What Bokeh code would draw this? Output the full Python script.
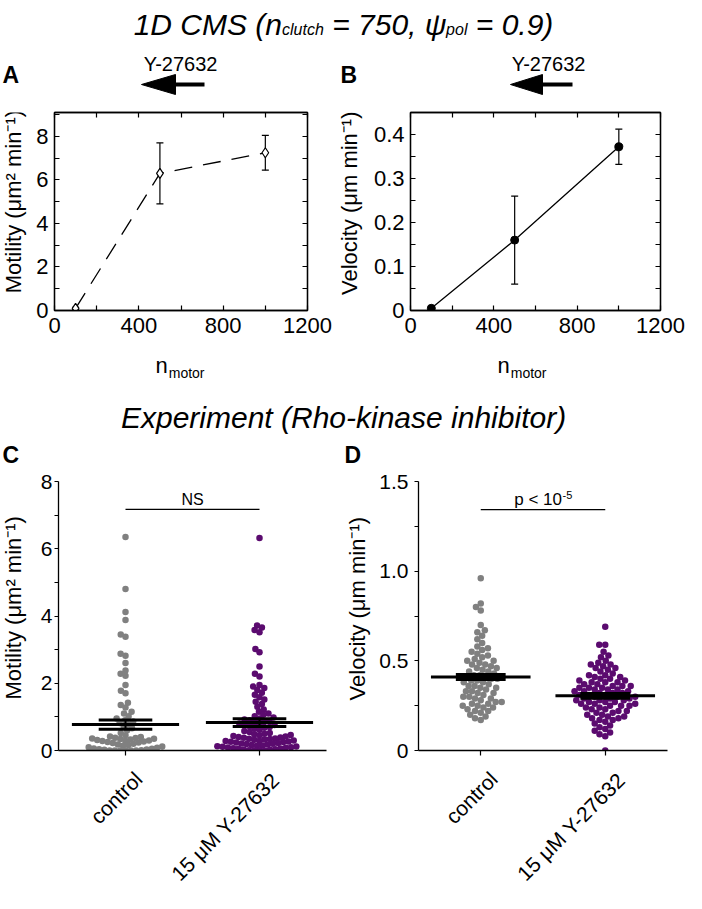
import math
from bokeh.plotting import figure
from bokeh.models import Range1d, LinearAxis, FixedTicker, Label, Whisker, TeeHead, ColumnDataSource
from bokeh.layouts import column, row
from bokeh.core.properties import value
from bokeh.embed import file_html
from bokeh.resources import INLINE

FONT = "Liberation Sans"
GRAY = "#808080"
PURPLE = "#5b0b6f"

# ---------------- data ----------------
n_motor = [100, 500, 1000]
motility_sim = [0.1, 6.3, 7.25]
motility_sim_err = [0.05, 1.4, 0.8]
velocity_sim = [0.005, 0.16, 0.372]
velocity_sim_err = [0.003, 0.1, 0.04]

sim_x_ticks = [0, 400, 800, 1200]
sim_x_minor = [200, 600, 1000]
mot_sim_ticks = [0, 2, 4, 6, 8]
mot_sim_minor = [1, 3, 5, 7, 9]
vel_sim_ticks = [0, 0.1, 0.2, 0.3, 0.4]
vel_sim_labels = ["0", "0.1", "0.2", "0.3", "0.4"]
vel_sim_minor = [0.05, 0.15, 0.25, 0.35]

categories = ["control", "15 μM Y-27632"]

motility_control = [6.35, 4.80, 4.12, 3.88, 3.45, 3.38, 2.88, 2.82, 2.60, 2.38,
                    2.28, 2.22, 1.95, 1.78, 1.70, 1.42, 1.35, 1.28, 1.15, 1.10,
                    1.02, 0.95, 0.90, 0.86, 0.82, 0.78, 0.72, 0.66, 0.60, 0.52,
                    0.45, 0.42, 0.40, 0.38, 0.37, 0.36, 0.35, 0.34, 0.33, 0.31,
                    0.30, 0.29, 0.28, 0.27, 0.25, 0.24, 0.22, 0.20, 0.18, 0.16,
                    0.14, 0.12, 0.10, 0.08, 0.06, 0.05, 0.04, 0.03, 0.02, 0.01,
                    0.0, 0.0, 0.0, 0.0, 0.0, 0.0]
motility_y27632 = [6.32, 3.72, 3.66, 3.58, 3.52, 3.02, 2.92, 2.50, 2.28, 2.20,
                   1.95, 1.90, 1.86, 1.80, 1.72, 1.66, 1.58, 1.52, 1.45, 1.38,
                   1.30, 1.22, 1.15, 1.10, 1.06, 1.02, 0.98, 0.95, 0.92, 0.90,
                   0.88, 0.85, 0.83, 0.80, 0.78, 0.76, 0.74, 0.72, 0.70, 0.68,
                   0.65, 0.62, 0.58, 0.55, 0.52, 0.50, 0.48, 0.46, 0.45, 0.43,
                   0.42, 0.40, 0.39, 0.38, 0.36, 0.35, 0.34, 0.33, 0.32, 0.30,
                   0.29, 0.28, 0.27, 0.26, 0.25, 0.24, 0.22, 0.21, 0.20, 0.19,
                   0.18, 0.16, 0.15, 0.14, 0.13, 0.12, 0.11, 0.10, 0.09, 0.08,
                   0.07, 0.06, 0.05, 0.04, 0.03, 0.02, 0.01, 0.0, 0.0, 0.0]
velocity_control = [0.96, 0.82, 0.80, 0.78, 0.70, 0.67, 0.66, 0.64, 0.62, 0.60,
                    0.58, 0.57, 0.56, 0.55, 0.54, 0.53, 0.52, 0.51, 0.50, 0.50,
                    0.49, 0.48, 0.48, 0.47, 0.46, 0.46, 0.45, 0.44, 0.44, 0.43,
                    0.42, 0.42, 0.41, 0.41, 0.40, 0.40, 0.39, 0.39, 0.38, 0.38,
                    0.37, 0.36, 0.36, 0.35, 0.35, 0.34, 0.33, 0.33, 0.32, 0.32,
                    0.31, 0.30, 0.30, 0.29, 0.29, 0.28, 0.27, 0.27, 0.26, 0.26,
                    0.25, 0.25, 0.24, 0.24, 0.23, 0.22, 0.22, 0.21, 0.20, 0.19,
                    0.18, 0.17]
velocity_y27632 = [0.69, 0.59, 0.59, 0.55, 0.53, 0.52, 0.50, 0.49, 0.48, 0.48,
                   0.47, 0.46, 0.46, 0.45, 0.44, 0.43, 0.42, 0.42, 0.41, 0.41,
                   0.40, 0.40, 0.39, 0.39, 0.38, 0.38, 0.38, 0.37, 0.37, 0.36,
                   0.36, 0.36, 0.35, 0.35, 0.35, 0.34, 0.34, 0.34, 0.33, 0.33,
                   0.33, 0.32, 0.32, 0.32, 0.31, 0.31, 0.31, 0.30, 0.30, 0.30,
                   0.29, 0.29, 0.29, 0.28, 0.28, 0.28, 0.27, 0.27, 0.27, 0.26,
                   0.26, 0.26, 0.25, 0.25, 0.25, 0.24, 0.24, 0.23, 0.23, 0.22,
                   0.22, 0.21, 0.21, 0.20, 0.20, 0.19, 0.19, 0.18, 0.18, 0.17,
                   0.17, 0.16, 0.15, 0.14, 0.13, 0.12, 0.11, 0.10, 0.09, 0.08,
                   0.0]
motility_mean = [0.77, 0.83]
motility_sem = [0.135, 0.115]
velocity_mean = [0.41, 0.305]
velocity_sem = [0.014, 0.013]
motility_bracket = 7.17
velocity_bracket = 1.343

mot_exp_ticks = [0, 2, 4, 6, 8]
mot_exp_labels = ["0", "2", "4", "6", "8"]
mot_exp_minor = [1, 3, 5, 7]
vel_exp_ticks = [0, 0.5, 1.0, 1.5]
vel_exp_labels = ["0", "0.5", "1.0", "1.5"]
vel_exp_minor = [0.25, 0.75, 1.25]

# --------------- helpers ---------------
WID = {' ': 278, '(': 333, ')': 333, ',': 278, '-': 333, '.': 278, '<': 584, '=': 584,
       'ψ': 712, 'μ': 576, 'A': 667, 'B': 667, 'C': 722, 'D': 722, 'E': 667, 'M': 833,
       'N': 722, 'R': 722, 'S': 667, 'Y': 667, 'a': 556, 'b': 556, 'c': 500, 'd': 556,
       'e': 556, 'h': 556, 'i': 222, 'k': 500, 'l': 222, 'm': 833, 'n': 556, 'o': 556,
       'p': 556, 'r': 333, 's': 500, 't': 278, 'u': 556, 'x': 500, 'y': 500}


def tw(s, size):
    return sum(WID.get(c, 556) for c in s) * size / 1000.0


def strip(xa, xb, ya, yb):
    """Blank drawing area whose coordinates are page positions (y down -> negated)."""
    p = figure(width=xb - xa, height=yb - ya, x_range=Range1d(xa, xb),
               y_range=Range1d(-yb, -ya), x_axis_type=None, y_axis_type=None,
               toolbar_location=None, output_backend="svg", min_border=0)
    p.title.visible = False
    p.outline_line_color = None
    return p


def txt(p, t, x, y, size, style="normal", align="left", angle=0.0, baseline="alphabetic"):
    p.text(x=[x], y=[-y], text=[t], angle=angle, text_font=value(FONT),
           text_font_size=value(f"{size}px"), text_font_style=value(style),
           text_align=value(align), text_baseline=value(baseline), text_color="black")


def draw_pieces(p, pieces, cx, baseline, style="italic"):
    total = sum(tw(t, s) for t, s, dy in pieces)
    x = cx - total / 2.0
    for t, s, dy in pieces:
        lead = len(t) - len(t.lstrip(' '))
        x += tw(' ' * lead, s)
        txt(p, t.strip(' '), x, baseline + dy, s, style=style)
        x += tw(t.lstrip(' '), s)


def arrow(p, tip, base, end, yc):
    p.patch(x=[tip, base, base], y=[-yc, -yc + 10, -yc - 10], color="black")
    p.line(x=[base - 1, end], y=[-yc, -yc], line_width=4, color="black")


def style_axis(ax, size, tin, tout, standoff):
    ax.major_label_text_font = FONT
    ax.major_label_text_font_size = f"{size}px"
    ax.major_label_text_color = "black"
    ax.axis_line_color = "black"
    ax.axis_line_width = 1.3
    ax.major_tick_line_color = "black"
    ax.minor_tick_line_color = "black"
    ax.major_tick_line_width = 1.2
    ax.minor_tick_line_width = 1.2
    ax.major_tick_in = tin
    ax.major_tick_out = tout
    ax.minor_tick_in = tin
    ax.minor_tick_out = tout
    ax.major_label_standoff = standoff
    ax.axis_label = None


def hide_labels(ax):
    ax.major_label_text_font_size = "1px"
    ax.major_label_text_color = None
    ax.major_label_standoff = 0


def swarm(vals, xpx, ypx, d):
    order = sorted(range(len(vals)), key=lambda i: vals[i])
    placed = []
    off = [0.0] * len(vals)
    for i in order:
        y = vals[i] * ypx
        near = [(px, py) for px, py in placed if abs(py - y) < d]
        cands = [0.0]
        for px, py in near:
            dx = math.sqrt(d * d - (y - py) ** 2)
            cands += [px + dx, px - dx]
        cands.sort(key=lambda c: (abs(c), c))
        chosen = cands[-1]
        for c in cands:
            if all((c - px) ** 2 + (y - py) ** 2 >= d * d - 1e-6 for px, py in near):
                chosen = c
                break
        placed.append((chosen, y))
        off[i] = chosen / xpx
    return off


def base_fig(xr, yr, fw, fh, bl, br, bt, bb):
    p = figure(width=bl + fw + br, height=bt + fh + bb, x_range=Range1d(*xr),
               y_range=Range1d(*yr), toolbar_location=None, output_backend="svg",
               min_border_left=bl, min_border_right=br, min_border_top=bt,
               min_border_bottom=bb)
    p.title.visible = False
    p.grid.visible = False
    return p


def sim_panel(yvals, yerr, yrange, yticks, yminor, ylabels, fw, fh, bl, br, bt, bb,
              dashed, filled):
    p = base_fig((0, 1200), yrange, fw, fh, bl, br, bt, bb)
    p.outline_line_color = "black"
    p.outline_line_width = 1.3
    xt = FixedTicker(ticks=sim_x_ticks, minor_ticks=sim_x_minor)
    yt = FixedTicker(ticks=yticks, minor_ticks=yminor)
    p.xaxis.ticker = xt
    p.yaxis.ticker = yt
    for ax in p.xaxis:
        style_axis(ax, 22, 5, 0, 7)
    for ax in p.yaxis:
        style_axis(ax, 22, 5, 0, 6)
        if ylabels is not None:
            ax.major_label_overrides = {t: l for t, l in zip(yticks, ylabels)}
    top = LinearAxis(ticker=xt)
    style_axis(top, 22, 5, 0, 0)
    hide_labels(top)
    p.add_layout(top, "above")
    right = LinearAxis(ticker=yt)
    style_axis(right, 22, 5, 0, 0)
    hide_labels(right)
    p.add_layout(right, "right")

    src = ColumnDataSource(dict(x=n_motor, y=yvals,
                                upper=[v + e for v, e in zip(yvals, yerr)],
                                lower=[v - e for v, e in zip(yvals, yerr)]))
    if dashed:
        p.line("x", "y", source=src, color="black", line_width=1.3, line_dash="18 11")
    else:
        p.line("x", "y", source=src, color="black", line_width=1.3)
    p.add_layout(Whisker(source=src, base="x", upper="upper", lower="lower",
                         line_color="black", line_width=1.2,
                         upper_head=TeeHead(size=7, line_width=1.2, line_color="black"),
                         lower_head=TeeHead(size=7, line_width=1.2, line_color="black")))
    if filled:
        p.scatter("x", "y", source=src, marker="circle", size=8, color="black")
    else:
        p.scatter("x", "y", source=src, marker="diamond", size=10, fill_color="white",
                  line_color="black", line_width=1.2)
    return p


def exp_panel(groups, means, sems, yrange, yticks, yminor, ylabels, fw, fh, bl, br, bt, bb,
              standoff, dmin):
    p = base_fig((0.5, 2.5), yrange, fw, fh, bl, br, bt, bb)
    p.outline_line_color = None
    p.xaxis.ticker = FixedTicker(ticks=[1, 2])
    p.yaxis.ticker = FixedTicker(ticks=yticks, minor_ticks=yminor)
    for ax in p.xaxis:
        style_axis(ax, 22, 0, 5, 0)
        ax.minor_tick_line_color = None
        hide_labels(ax)
    for ax in p.yaxis:
        style_axis(ax, 21, 0, 4, standoff)
        ax.major_label_overrides = {t: l for t, l in zip(yticks, ylabels)}
    xpx = fw / 2.0
    ypx = fh / (yrange[1] - yrange[0])
    for gi, (vals, col) in enumerate(groups):
        offs = swarm(vals, xpx, ypx, dmin)
        p.scatter([gi + 1 + o for o in offs], vals, marker="circle", size=6.5,
                  fill_color=col, line_color=None)
    xs = [1, 2]
    p.segment(x0=[x - 0.4 for x in xs], x1=[x + 0.4 for x in xs], y0=means, y1=means,
              line_color="black", line_width=3)
    up = [m + s for m, s in zip(means, sems)]
    lo = [m - s for m, s in zip(means, sems)]
    p.segment(x0=[x - 0.2 for x in xs], x1=[x + 0.2 for x in xs], y0=up, y1=up,
              line_color="black", line_width=3)
    p.segment(x0=[x - 0.2 for x in xs], x1=[x + 0.2 for x in xs], y0=lo, y1=lo,
              line_color="black", line_width=3)
    p.segment(x0=xs, x1=xs, y0=lo, y1=up, line_color="black", line_width=2)
    return p


# ---------------- layout geometry (page pixels) ----------------
# row 1 : title strip           y   8..112
# row 2 : panels A, B           y 112..352
# row 3 : text strip            y 352..476
# row 4 : panels C, D           y 476..770
# row 5 : category label strip  y 770..901

s1 = strip(8, 694, 8, 112)
draw_pieces(s1, [("1D CMS (n", 30, 0), ("clutch", 16, 5), (" = 750, ψ", 30, 0),
                 ("pol", 16, 5), (" = 0.9)", 30, 0)], 351, 32)
txt(s1, "A", 10, 82, 23, style="bold")
txt(s1, "B", 348, 82, 23, style="bold")
draw_pieces(s1, [("Y-27632", 20, 0)], 189, 71, style="normal")
draw_pieces(s1, [("Y-27632", 20, 0)], 557, 71, style="normal")
arrow(s1, 149, 183, 212, 92)
arrow(s1, 518, 550, 580, 92)

# row 2   (A frame x 62..315, y 118..318 ; B frame x 418..668, y 120..318)
yA = strip(8, 38, 112, 352)
txt(yA, "Motility (μm² min⁻¹)", 21, 220, 22, align="center", angle=math.pi / 2,
    baseline="middle")
pA = sim_panel(motility_sim, motility_sim_err, (0, 9.1), mot_sim_ticks, mot_sim_minor, None,
               253, 200, 24, 27, 6, 34, dashed=True, filled=False)
yB = strip(342, 372, 112, 352)
txt(yB, "Velocity (μm min⁻¹)", 357, 222, 22, align="center", angle=math.pi / 2,
    baseline="middle")
pB = sim_panel(velocity_sim, velocity_sim_err, (0, 0.45), vel_sim_ticks, vel_sim_minor,
               vel_sim_labels, 250, 198, 46, 26, 8, 34, dashed=False, filled=True)

# row 3
s2 = strip(8, 694, 352, 476)
txt(s2, "n", 163, 373, 22)
txt(s2, "motor", 163 + tw("n", 22) + 1, 380, 14)
txt(s2, "n", 505, 373, 22)
txt(s2, "motor", 505 + tw("n", 22) + 1, 380, 14)
draw_pieces(s2, [("Experiment (Rho-kinase inhibitor)", 30, 0)], 351, 425)
txt(s2, "C", 10, 462, 23, style="bold")
txt(s2, "D", 352, 462, 23, style="bold")

# row 4   (C frame x 66..334 ; D frame x 426..675 ; both y 489..758)
yC = strip(8, 38, 476, 770)
txt(yC, "Motility (μm² min⁻¹)", 21, 614, 22, align="center", angle=math.pi / 2,
    baseline="middle")
pC = exp_panel([(motility_control, GRAY), (motility_y27632, PURPLE)], motility_mean,
               motility_sem, (0, 8), mot_exp_ticks, mot_exp_minor, mot_exp_labels,
               268, 269, 28, 17, 13, 12, 2, 5.3)
pC.line(x=[1, 2], y=[motility_bracket, motility_bracket], color="black", line_width=1.3)
pC.add_layout(Label(x=1.5, y=motility_bracket, y_offset=10, text="NS", text_font=FONT,
                    text_font_size="16px", text_align="center", text_baseline="alphabetic",
                    text_color="black"))
yD = strip(351, 380, 476, 770)
txt(yD, "Velocity (μm min⁻¹)", 365, 615, 22, align="center", angle=math.pi / 2,
    baseline="middle")
pD = exp_panel([(velocity_control, GRAY), (velocity_y27632, PURPLE)], velocity_mean,
               velocity_sem, (0, 1.5), vel_exp_ticks, vel_exp_minor, vel_exp_labels,
               249, 269, 46, 19, 13, 12, 6, 6.0)
pD.line(x=[1, 2], y=[velocity_bracket, velocity_bracket], color="black", line_width=1.3)
w_main = tw("p < 10", 17)
w_sup = tw("-5", 11)
x0 = -(w_main + w_sup) / 2.0
pD.add_layout(Label(x=1.5, y=velocity_bracket, y_offset=10, text="p < 10", text_font=FONT,
                    text_font_size="17px", text_align="left", text_baseline="alphabetic",
                    text_color="black", x_offset=x0))
pD.add_layout(Label(x=1.5, y=velocity_bracket, y_offset=15, text="-5", text_font=FONT,
                    text_font_size="11px", text_align="left", text_baseline="alphabetic",
                    text_color="black", x_offset=x0 + w_main + 0.5))

# row 5: rotated category labels, anchored near each category tick
s3 = strip(8, 694, 770, 901)
cat_px_C = [66 + (i + 0.5) * 268 / 2.0 for i in range(len(categories))]
cat_px_D = [426 + (i + 0.5) * 249 / 2.0 for i in range(len(categories))]
cat_shift = [(13, 25), (16, 26)]
for xs_ in (cat_px_C, cat_px_D):
    for xc, c, (dx, dy) in zip(xs_, categories, cat_shift):
        txt(s3, c, xc + dx, 758 + dy, 21, align="right", angle=math.pi / 4)

layout = column(s1, row(yA, pA, yB, pB), s2, row(yC, pC, yD, pD), s3)
open("out.html", "w").write(file_html(layout, INLINE))
